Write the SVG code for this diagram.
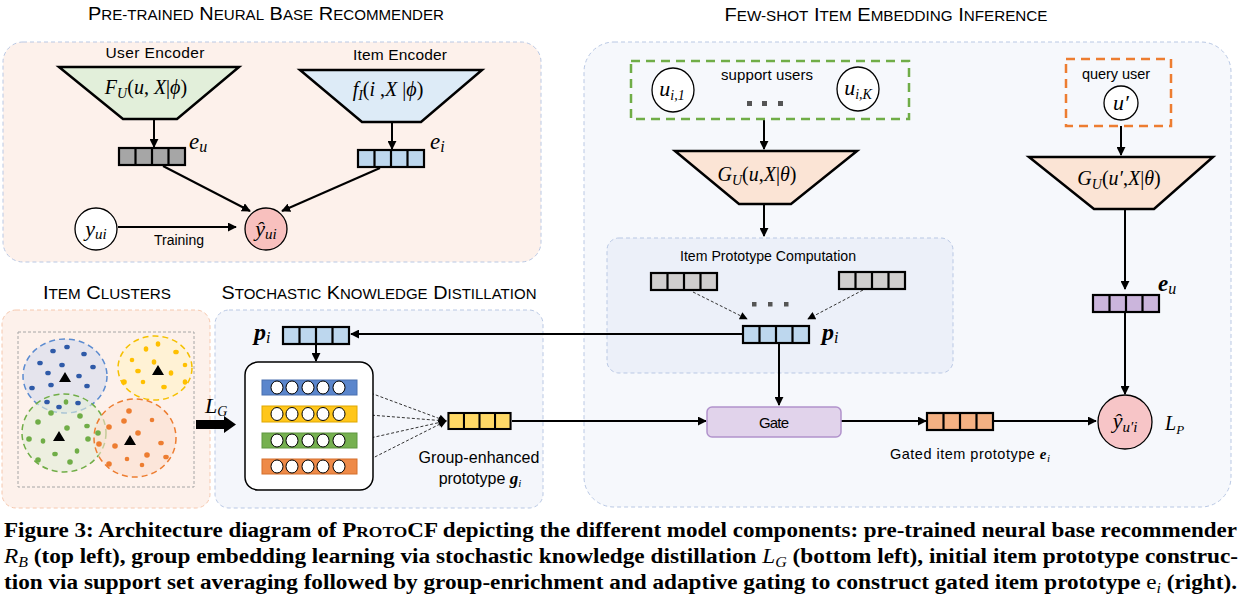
<svg xmlns="http://www.w3.org/2000/svg" xmlns:xlink="http://www.w3.org/1999/xlink" width="1242" height="610" viewBox="0 0 1242 610">
<defs>
<style>
.sans{font-family:"Liberation Sans",Arial,sans-serif;fill:#000}
.m{font-family:"Liberation Serif","Times New Roman",serif;font-style:italic;fill:#000}
.up{font-style:normal}
.b{font-weight:bold}
.nb{font-weight:normal}
.cap{font-family:"Liberation Sans",Arial,sans-serif;fill:#000}
.trap{stroke:#000;stroke-width:2.5}
.arr{stroke:#000;stroke-width:2;fill:none;marker-end:url(#ah)}
.dsh{stroke:#333;stroke-width:1;stroke-dasharray:3 2;fill:none;marker-end:url(#ahs)}
.panel{stroke-width:1;stroke-dasharray:4 3}
.bar{stroke-width:1}
.cir{fill:#fff;stroke:#000;stroke-width:1}
.node{stroke:#000;stroke-width:1.3}
.cl{stroke-width:1.5;stroke-dasharray:6 4}
.tri{fill:#000}
.dot{fill:#555}
.cap2{font-family:"Liberation Serif","Times New Roman",serif;font-weight:bold;font-size:20.5px;fill:#000}
</style>
<marker id="ah" viewBox="0 0 10 10" refX="9" refY="5" markerWidth="4.5" markerHeight="4.5" orient="auto"><path d="M0,0 L10,5 L0,10 z" fill="#000"/></marker>
<marker id="ahs" viewBox="0 0 10 10" refX="9" refY="5" markerWidth="9" markerHeight="8" markerUnits="userSpaceOnUse" orient="auto"><path d="M0,0 L10,5 L0,10 z" fill="#000"/></marker>
<symbol id="vec" viewBox="0 0 66 17" overflow="visible"><rect x="0" y="0" width="66" height="17" stroke="#000" stroke-width="2.2"/><path d="M16.5 0V17M33 0V17M49.5 0V17" stroke="#000" stroke-width="2.2" fill="none"/></symbol>
</defs>

<!-- Panels -->
<g id="panel-base">
<rect x="3" y="42" width="538" height="220" rx="20" class="panel" fill="#fdf1eb" stroke="#b9c8e4"/>
<text x="266" y="20" text-anchor="middle" class="cap" font-size="18.5" textLength="356" lengthAdjust="spacingAndGlyphs">P<tspan font-size="14">RE-TRAINED</tspan> N<tspan font-size="14">EURAL</tspan> B<tspan font-size="14">ASE</tspan> R<tspan font-size="14">ECOMMENDER</tspan></text>
</g>
<g id="panel-fewshot">
<rect x="584" y="42" width="647" height="465" rx="30" class="panel" fill="#f6f8fc" stroke="#b9c8e4"/>
<text x="886" y="21" text-anchor="middle" class="cap" font-size="18.5" textLength="323" lengthAdjust="spacingAndGlyphs">F<tspan font-size="14">EW-SHOT</tspan> I<tspan font-size="14">TEM</tspan> E<tspan font-size="14">MBEDDING</tspan> I<tspan font-size="14">NFERENCE</tspan></text>
</g>
<g id="panel-clusters">
<rect x="2" y="310" width="208" height="198" rx="14" class="panel" fill="#fdf1eb" stroke="#f6c8ae"/>
<text x="107" y="299" text-anchor="middle" class="cap" font-size="18.5" textLength="128" lengthAdjust="spacingAndGlyphs">I<tspan font-size="14">TEM</tspan> C<tspan font-size="14">LUSTERS</tspan></text>
</g>
<g id="panel-skd">
<rect x="215" y="310" width="328" height="198" rx="14" class="panel" fill="#f4f6fb" stroke="#b9c8e4"/>
<text x="379" y="299" text-anchor="middle" class="cap" font-size="18.5" textLength="315" lengthAdjust="spacingAndGlyphs">S<tspan font-size="14">TOCHASTIC</tspan> K<tspan font-size="14">NOWLEDGE</tspan> D<tspan font-size="14">ISTILLATION</tspan></text>
</g>
<g id="panel-ipc">
<rect x="607" y="238" width="346" height="135" rx="12" class="panel" fill="#ecf0f9" stroke="#b9c8e4"/>
<text x="768" y="261" text-anchor="middle" class="sans" font-size="15" textLength="176" lengthAdjust="spacingAndGlyphs">Item Prototype Computation</text>
</g>

<!-- Connectors -->
<g id="connectors">
<line x1="154" y1="120" x2="154" y2="147" class="arr"/>
<line x1="392" y1="123" x2="392" y2="149" class="arr"/>
<line x1="163" y1="166" x2="250" y2="211" class="arr"/>
<line x1="380" y1="168" x2="282" y2="211" class="arr"/>
<line x1="118" y1="227" x2="236" y2="227" class="arr"/>
<line x1="764" y1="120" x2="764" y2="149" class="arr"/>
<line x1="764" y1="205" x2="764" y2="236" class="arr"/>
<line x1="1121" y1="126" x2="1121" y2="155" class="arr"/>
<line x1="1125" y1="210" x2="1125" y2="289" class="arr"/>
<line x1="1125" y1="313" x2="1125" y2="394" class="arr"/>
<line x1="693" y1="292" x2="747" y2="319" class="dsh"/>
<line x1="863" y1="290" x2="808" y2="319" class="dsh"/>
<line x1="743" y1="334" x2="351" y2="334" class="arr"/>
<line x1="316" y1="344" x2="316" y2="361" class="arr"/>
<line x1="779" y1="344" x2="779" y2="405" class="arr"/>
<line x1="512" y1="421" x2="706" y2="421" class="arr"/>
<line x1="841" y1="421" x2="926" y2="421" class="arr"/>
<line x1="994" y1="421" x2="1096" y2="421" class="arr"/>
<line x1="357" y1="388" x2="446" y2="421" class="dsh"/>
<line x1="357" y1="414" x2="446" y2="421" class="dsh"/>
<line x1="357" y1="441" x2="446" y2="421" class="dsh"/>
<line x1="357" y1="466" x2="446" y2="421" class="dsh"/>
<path d="M196,420 H224 V416 L236,424.5 L224,433 V429 H196 Z" fill="#000"/>
</g>

<!-- Top-left: base recommender -->
<g id="user-encoder">
<text x="155" y="58" text-anchor="middle" class="sans" font-size="15.5" textLength="99">User Encoder</text>
<polygon points="59,67 239,67 177,119 123,119" class="trap" fill="#e2efda"/>
<text x="146" y="94" text-anchor="middle" class="m" font-size="20">F<tspan font-size="14" dy="4">U</tspan><tspan dy="-4" class="up">(</tspan>u<tspan class="up">,</tspan> X<tspan class="up">|</tspan>ϕ<tspan class="up">)</tspan></text>
</g>
<g id="item-encoder">
<text x="400" y="60" text-anchor="middle" class="sans" font-size="15.5" textLength="94">Item Encoder</text>
<polygon points="300,70 482,70 421,122 362,122" class="trap" fill="#ddebf7"/>
<text x="388" y="96" text-anchor="middle" class="m" font-size="20">f<tspan font-size="14" dy="4">I</tspan><tspan dy="-4" class="up">(</tspan>i <tspan class="up">,</tspan>X <tspan class="up">|</tspan>ϕ<tspan class="up">)</tspan></text>
</g>
<g id="eu-base">
<use href="#vec" x="119" y="148" width="66" height="17" fill="#a6a6a6"/>
<text x="189" y="149" class="m" font-size="23">e<tspan font-size="16" dy="3">u</tspan></text>
</g>
<g id="ei-base">
<use href="#vec" x="358" y="150" width="66" height="17" fill="#bdd7ee"/>
<text x="430" y="149" class="m" font-size="23">e<tspan font-size="16" dy="3">i</tspan></text>
</g>
<g id="y-true">
<circle cx="96" cy="229" r="21" class="node" fill="#fff"/>
<text x="96" y="236" text-anchor="middle" class="m" font-size="22">y<tspan font-size="15" dy="3">ui</tspan></text>
</g>
<g id="y-hat">
<circle cx="266" cy="229" r="21" class="node" fill="#f8c0be"/>
<text x="266" y="236" text-anchor="middle" class="m" font-size="22">ŷ<tspan font-size="15" dy="3">ui</tspan></text>
</g>
<text x="179" y="245" text-anchor="middle" class="sans" font-size="14" textLength="50">Training</text>

<!-- Top-right: few-shot -->
<g id="support-users">
<rect x="631" y="61" width="278" height="58" fill="none" stroke="#70ad47" stroke-width="2.5" stroke-dasharray="9 6"/>
<text x="767" y="80" text-anchor="middle" class="sans" font-size="15" textLength="92">support users</text>
<ellipse cx="673" cy="90" rx="21" ry="22" class="node" fill="#fff"/>
<text x="672" y="96" text-anchor="middle" class="m" font-size="22">u<tspan font-size="14" dy="4">i,1</tspan></text>
<ellipse cx="858" cy="89" rx="21" ry="22" class="node" fill="#fff"/>
<text x="858" y="95" text-anchor="middle" class="m" font-size="22">u<tspan font-size="14" dy="4">i,K</tspan></text>
<rect x="747" y="101" width="5" height="5" class="dot"/>
<rect x="762" y="101" width="5" height="5" class="dot"/>
<rect x="778" y="101" width="5" height="5" class="dot"/>
</g>
<g id="gu-support">
<polygon points="675,151 857,151 791,204 739,204" class="trap" fill="#fbe4d5"/>
<text x="757" y="181" text-anchor="middle" class="m" font-size="20">G<tspan font-size="14" dy="4">U</tspan><tspan dy="-4" class="up">(</tspan>u<tspan class="up">,</tspan>X<tspan class="up">|</tspan>θ<tspan class="up">)</tspan></text>
</g>
<g id="query-user">
<rect x="1066" y="59" width="105" height="67" fill="none" stroke="#ed7d31" stroke-width="2.5" stroke-dasharray="9 6"/>
<text x="1116" y="79" text-anchor="middle" class="sans" font-size="14.5" textLength="68">query user</text>
<circle cx="1121" cy="103" r="17" class="node" fill="#fff"/>
<text x="1121" y="110" text-anchor="middle" class="m" font-size="22">u′</text>
</g>
<g id="gu-query">
<polygon points="1029,157 1213,157 1154,209 1094,209" class="trap" fill="#fbe4d5"/>
<text x="1119" y="185" text-anchor="middle" class="m" font-size="20">G<tspan font-size="14" dy="4">U</tspan><tspan dy="-4" class="up">(</tspan>u′<tspan class="up">,</tspan>X<tspan class="up">|</tspan>θ<tspan class="up">)</tspan></text>
</g>
<g id="ipc-vectors">
<use href="#vec" x="651" y="273" width="66" height="17" fill="#d0cece"/>
<use href="#vec" x="839" y="272" width="66" height="17" fill="#d0cece"/>
<rect x="752" y="302" width="4.5" height="4.5" class="dot"/>
<rect x="768" y="302" width="4.5" height="4.5" class="dot"/>
<rect x="784" y="302" width="4.5" height="4.5" class="dot"/>
</g>
<g id="pi-ipc">
<use href="#vec" x="743" y="326" width="66" height="17" fill="#bdd7ee"/>
<text x="822" y="340" class="m b" font-size="24">p<tspan class="nb" font-size="16" dy="3">i</tspan></text>
</g>
<g id="gate">
<rect x="707" y="407" width="134" height="30" rx="5" fill="#e1d3eb" stroke="#b192cc" stroke-width="1.5"/>
<text x="774" y="428" text-anchor="middle" class="sans" font-size="15" textLength="30">Gate</text>
</g>
<g id="gated-ei">
<use href="#vec" x="927" y="413" width="66" height="17" fill="#f4b183"/>
<text x="970" y="459" text-anchor="middle" class="sans" font-size="14.5" textLength="160">Gated item prototype <tspan class="m b" font-size="15">e</tspan><tspan class="m" font-size="11" dy="3">i</tspan></text>
</g>
<g id="eu-query">
<use href="#vec" x="1093" y="295" width="66" height="17" fill="#cbb5dc"/>
<text x="1158" y="291" class="m b" font-size="23">e<tspan class="nb" font-size="16" dy="3">u</tspan></text>
</g>
<g id="y-hat-query">
<circle cx="1125" cy="422" r="27" class="node" fill="#f7c5c7"/>
<text x="1125" y="428" text-anchor="middle" class="m" font-size="22">ŷ<tspan font-size="15" dy="4">u′i</tspan></text>
<text x="1165" y="430" class="m" font-size="20">L<tspan font-size="13" dy="4">P</tspan></text>
</g>

<!-- Item clusters -->
<g id="item-clusters">
<rect x="18" y="332" width="176" height="155" fill="none" stroke="#a6a6a6" stroke-width="1" stroke-dasharray="3 2"/>
<ellipse cx="65" cy="376" rx="42" ry="37" class="cl" fill="#d5dcee" fill-opacity="0.6" stroke="#5b8bd0"/>
<ellipse cx="155" cy="368" rx="37" ry="32" class="cl" fill="#fff2cc" fill-opacity="0.7" stroke="#f5c000"/>
<ellipse cx="64" cy="433" rx="42" ry="39" class="cl" fill="#e2efd9" fill-opacity="0.6" stroke="#70ad47"/>
<ellipse cx="135" cy="438" rx="41" ry="39" class="cl" fill="#fbe0cf" fill-opacity="0.6" stroke="#ed7d31"/>
<g fill="#2f5aa8">
<ellipse cx="67" cy="347" rx="2.8" ry="2.3"/><ellipse cx="53" cy="351" rx="2.8" ry="2.3"/><ellipse cx="84" cy="354" rx="2.8" ry="2.3"/><ellipse cx="40" cy="363" rx="2.8" ry="2.3"/><ellipse cx="62" cy="365" rx="2.8" ry="2.3"/><ellipse cx="93" cy="367" rx="2.8" ry="2.3"/><ellipse cx="48" cy="373" rx="2.8" ry="2.3"/><ellipse cx="79" cy="376" rx="2.8" ry="2.3"/><ellipse cx="32" cy="388" rx="2.8" ry="2.3"/><ellipse cx="51" cy="385" rx="2.8" ry="2.3"/><ellipse cx="87" cy="386" rx="2.8" ry="2.3"/><ellipse cx="47" cy="402" rx="2.8" ry="2.3"/><ellipse cx="59" cy="407" rx="2.8" ry="2.3"/><ellipse cx="78" cy="403" rx="2.8" ry="2.3"/>
</g>
<g fill="#ffc000">
<ellipse cx="158" cy="344" rx="2.3" ry="2.8"/><ellipse cx="146" cy="349" rx="2.3" ry="2.8"/><ellipse cx="176" cy="352" rx="2.8" ry="2.3"/><ellipse cx="132" cy="360" rx="2.3" ry="2.3"/><ellipse cx="154" cy="362" rx="2.3" ry="2.8"/><ellipse cx="185" cy="365" rx="2.3" ry="2.3"/><ellipse cx="138" cy="371" rx="2.8" ry="2.3"/><ellipse cx="171" cy="373" rx="2.3" ry="2.8"/><ellipse cx="124" cy="382" rx="2.8" ry="2.8"/><ellipse cx="143" cy="382" rx="2.3" ry="2.3"/><ellipse cx="164" cy="387" rx="2.8" ry="2.3"/><ellipse cx="185" cy="382" rx="2.3" ry="2.8"/>
</g>
<g fill="#70ad47">
<ellipse cx="66" cy="402" rx="2.3" ry="2.8"/><ellipse cx="51" cy="413" rx="2.8" ry="2.8"/><ellipse cx="80" cy="416" rx="2.8" ry="2.8"/><ellipse cx="38" cy="422" rx="2.8" ry="2.8"/><ellipse cx="67" cy="428" rx="2.8" ry="2.8"/><ellipse cx="87" cy="426" rx="2.8" ry="2.3"/><ellipse cx="29" cy="439" rx="2.8" ry="2.8"/><ellipse cx="43" cy="441" rx="2.3" ry="2.8"/><ellipse cx="88" cy="439" rx="2.8" ry="2.8"/><ellipse cx="98" cy="433" rx="2.8" ry="2.8"/><ellipse cx="55" cy="454" rx="2.8" ry="2.3"/><ellipse cx="77" cy="451" rx="2.3" ry="2.8"/><ellipse cx="38" cy="460" rx="2.8" ry="2.8"/><ellipse cx="70" cy="462" rx="2.8" ry="2.8"/>
</g>
<g fill="#ed7d31">
<ellipse cx="129" cy="411" rx="2.8" ry="2.8"/><ellipse cx="124" cy="421" rx="2.8" ry="2.8"/><ellipse cx="152" cy="420" rx="2.3" ry="2.3"/><ellipse cx="109" cy="427" rx="2.8" ry="2.8"/><ellipse cx="138" cy="433" rx="2.8" ry="2.8"/><ellipse cx="99" cy="444" rx="2.8" ry="2.8"/><ellipse cx="115" cy="446" rx="2.8" ry="2.8"/><ellipse cx="161" cy="443" rx="2.8" ry="2.3"/><ellipse cx="147" cy="455" rx="2.8" ry="2.8"/><ellipse cx="166" cy="457" rx="2.8" ry="2.3"/><ellipse cx="127" cy="459" rx="2.3" ry="2.3"/><ellipse cx="109" cy="464" rx="2.8" ry="2.8"/><ellipse cx="142" cy="465" rx="2.3" ry="2.3"/>
</g>
<path d="M59,382 L65,372 L71,382 Z M152,375 L158,365 L164,375 Z M53,441 L59,431 L65,441 Z M124,445 L130,435 L136,445 Z" class="tri"/>
</g>

<!-- SKD -->
<g id="lg-label">
<text x="205" y="413" class="m" font-size="22">L<tspan font-size="14" dy="3">G</tspan></text>
</g>
<g id="pi-skd">
<use href="#vec" x="283" y="327" width="66" height="17" fill="#bdd7ee"/>
<text x="254" y="340" class="m b" font-size="24">p<tspan class="nb" font-size="16" dy="3">i</tspan></text>
</g>
<g id="group-embeddings">
<rect x="245" y="362" width="128" height="128" rx="13" fill="#fff" stroke="#000" stroke-width="1.5"/>
<rect x="262" y="380" width="95" height="15" class="bar" fill="#5b86cc" stroke="#4a70b0"/>
<rect x="262" y="406" width="95" height="16" class="bar" fill="#ffc61a" stroke="#e0a800"/>
<rect x="262" y="433" width="95" height="15" class="bar" fill="#76b050" stroke="#5e9640"/>
<rect x="262" y="459" width="95" height="15" class="bar" fill="#ee8a48" stroke="#d56f2a"/>
<g class="cir">
<ellipse cx="277" cy="387.5" rx="6" ry="6.5"/><ellipse cx="292" cy="387.5" rx="6" ry="6.5"/><ellipse cx="308" cy="387.5" rx="6" ry="6.5"/><ellipse cx="323" cy="387.5" rx="6" ry="6.5"/><ellipse cx="339" cy="387.5" rx="6" ry="6.5"/>
<ellipse cx="277" cy="414" rx="6" ry="6.5"/><ellipse cx="292" cy="414" rx="6" ry="6.5"/><ellipse cx="308" cy="414" rx="6" ry="6.5"/><ellipse cx="323" cy="414" rx="6" ry="6.5"/><ellipse cx="339" cy="414" rx="6" ry="6.5"/>
<ellipse cx="277" cy="440.5" rx="6" ry="6.5"/><ellipse cx="292" cy="440.5" rx="6" ry="6.5"/><ellipse cx="308" cy="440.5" rx="6" ry="6.5"/><ellipse cx="323" cy="440.5" rx="6" ry="6.5"/><ellipse cx="339" cy="440.5" rx="6" ry="6.5"/>
<ellipse cx="277" cy="466.5" rx="6" ry="6.5"/><ellipse cx="292" cy="466.5" rx="6" ry="6.5"/><ellipse cx="308" cy="466.5" rx="6" ry="6.5"/><ellipse cx="323" cy="466.5" rx="6" ry="6.5"/><ellipse cx="339" cy="466.5" rx="6" ry="6.5"/>
</g>
</g>
<g id="gi-vector">
<use href="#vec" x="447" y="413" width="65" height="16" fill="#ffd966"/>
<text x="479" y="463" text-anchor="middle" class="sans" font-size="16" textLength="121">Group-enhanced</text>
<text x="480" y="484" text-anchor="middle" class="sans" font-size="16">prototype <tspan class="m b" font-size="17">g</tspan><tspan class="m" font-size="11" dy="3">i</tspan></text>
</g>

<!-- Caption -->
<g id="caption">
<text x="4" y="537" class="cap2" textLength="1233" lengthAdjust="spacingAndGlyphs">Figure 3: Architecture diagram of P<tspan font-size="15.5">ROTO</tspan>CF depicting the different model components: pre-trained neural base recommender</text>
<text x="4" y="563" class="cap2" textLength="1234" lengthAdjust="spacingAndGlyphs"><tspan class="m nb">R</tspan><tspan class="m nb" font-size="14" dy="4">B</tspan><tspan dy="-4"> (top left), group embedding learning via stochastic knowledge distillation </tspan><tspan class="m nb">L</tspan><tspan class="m nb" font-size="14" dy="4">G</tspan><tspan dy="-4"> (bottom left), initial item prototype construc-</tspan></text>
<text x="4" y="589" class="cap2" textLength="1233" lengthAdjust="spacingAndGlyphs">tion via support set averaging followed by group-enrichment and adaptive gating to construct gated item prototype <tspan class="nb">e</tspan><tspan class="m nb" font-size="14" dy="4">i</tspan><tspan dy="-4"> (right).</tspan></text>
</g>
</svg>
